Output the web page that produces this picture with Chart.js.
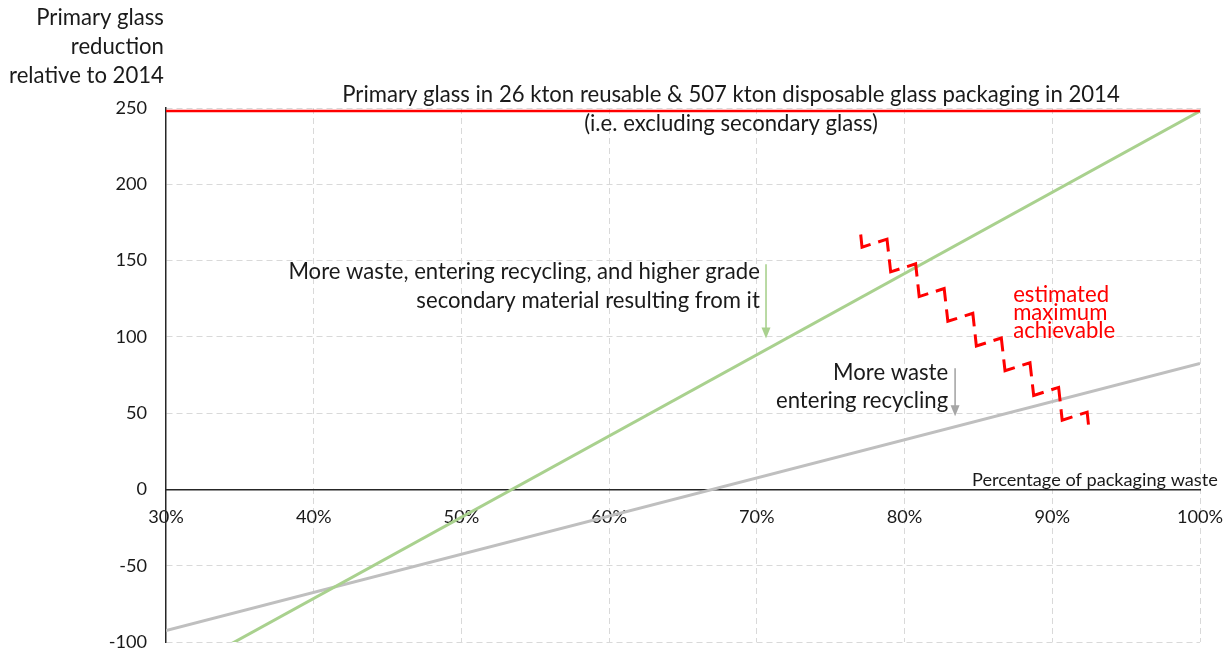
<!DOCTYPE html>
<html><head><meta charset="utf-8">
<script src="https://cdn.jsdelivr.net/npm/chart.js@4.4.1/dist/chart.umd.min.js"></script>
<style>html,body{margin:0;padding:0;background:#fff;overflow:hidden}canvas{display:block}</style>
</head><body>
<canvas id="c" width="1224" height="651"></canvas>
<script>
// ---------------- data ----------------
const xTickValues = [30, 40, 50, 60, 70, 80, 90, 100];          // % of packaging waste
const yTickValues = [-100, -50, 0, 50, 100, 150, 200, 250];     // kton
const baselineX = [30, 100];
const baselineY = [248, 248];                                    // primary glass 2014
const highGradeX = [30, 100];
const highGradeY = [-124.7, 248];                                // more waste + higher grade secondary material
const moreWasteX = [30, 100];
const moreWasteY = [-92.5, 82.5];                                // more waste entering recycling
const maxAchX = [77.03, 77.12, 78.81, 79.06, 80.75, 80.99, 82.68, 82.93, 84.62, 84.86, 86.55, 86.80, 88.49, 88.74, 90.43, 90.67, 92.36, 92.45];
const maxAchY = [167.1, 158.8, 164.05, 142.6, 147.85, 126.4, 131.65, 110.2, 115.45, 94.0, 99.25, 77.8, 83.05, 61.6, 66.85, 45.4, 50.65, 42.5];

const titleLines = ["Primary glass", "reduction", "relative to 2014"];
const topNote = ["Primary glass in 26 kton reusable & 507 kton disposable glass packaging in 2014", "(i.e. excluding secondary glass)"];
const greenNote = ["More waste, entering recycling, and higher grade", "secondary material resulting from it"];
const grayNote = ["More waste", "entering recycling"];
const redNote = ["estimated", "maximum", "achievable"];
const xAxisTitle = "Percentage of packaging waste";

// ---------------- styling ----------------
const FAMILY = 'Lato, "Liberation Sans", sans-serif';
const mctx = document.createElement('canvas').getContext('2d');
function fit(text, target) { mctx.font = '100px ' + FAMILY; return 100 * target / mctx.measureText(text).width; }
const mainSize = fit(topNote[0], 778);
const smallSize = mainSize * 19.7 / 24;
const TEXT = '#1a1a1a';
const GREEN = '#a9d18e', GRAY = '#bfbfbf', RED = '#ff0000';

const pts = (xs, ys) => xs.map((v, i) => ({ x: v, y: ys[i] }));

function txt(ctx, s, x, y, align, color, size) {
  ctx.font = size + 'px ' + FAMILY; ctx.fillStyle = color; ctx.textAlign = align; ctx.textBaseline = 'alphabetic';
  ctx.fillText(s, x, y);
}
function arrow(ctx, x, y1, y2, color) {
  ctx.save();
  ctx.strokeStyle = color; ctx.lineWidth = 1.6;
  ctx.beginPath(); ctx.moveTo(x, y1); ctx.lineTo(x, y2 - 9); ctx.stroke();
  ctx.fillStyle = color; ctx.beginPath();
  ctx.moveTo(x - 4.5, y2 - 11); ctx.lineTo(x + 4.5, y2 - 11); ctx.lineTo(x, y2); ctx.closePath(); ctx.fill();
  ctx.restore();
}

const annot = {
  id: 'annot',
  afterDatasetsDraw(chart) {
    const { ctx, scales: { x, y } } = chart;
    const X = v => x.getPixelForValue(v), Y = v => y.getPixelForValue(v);
    ctx.save();
    [304.5, 285.4, 266.4].forEach((v, i) => txt(ctx, titleLines[i], X(29.86), Y(v), 'right', TEXT, mainSize));
    txt(ctx, topNote[0], X(68.25), Y(254), 'center', TEXT, mainSize);
    txt(ctx, topNote[1], X(68.25), Y(235), 'center', TEXT, mainSize);
    txt(ctx, greenNote[0], X(70.2), Y(137.8), 'right', TEXT, mainSize);
    txt(ctx, greenNote[1], X(70.2), Y(118.8), 'right', TEXT, mainSize);
    arrow(ctx, X(70.62), Y(147.6), Y(99), GREEN);
    txt(ctx, grayNote[0], X(82.95), Y(71.5), 'right', TEXT, mainSize);
    txt(ctx, grayNote[1], X(82.95), Y(53.1), 'right', TEXT, mainSize);
    arrow(ctx, X(83.42), Y(79.4), Y(47.9), '#a6a6a6');
    [122.7, 110.9, 99.1].forEach((v, i) => txt(ctx, redNote[i], X(87.35), Y(v), 'left', RED, mainSize));
    txt(ctx, xAxisTitle, X(101.2), Y(2.0), 'right', TEXT, smallSize);
    ctx.restore();
  }
};

new Chart(document.getElementById('c'), {
  type: 'scatter',
  data: {
    datasets: [
      { label: 'estimated maximum achievable', data: pts(maxAchX, maxAchY), showLine: true, borderColor: RED, borderWidth: 3,
        borderDash: [21.7, 8], borderJoinStyle: 'miter', borderCapStyle: 'butt', pointRadius: 0, fill: false, tension: 0 },
      { label: 'primary glass 2014', data: pts(baselineX, baselineY), showLine: true, borderColor: RED, borderWidth: 2.5, pointRadius: 0 },
      { label: 'higher grade', data: pts(highGradeX, highGradeY), showLine: true, borderColor: GREEN, borderWidth: 3, pointRadius: 0 },
      { label: 'more waste', data: pts(moreWasteX, moreWasteY), showLine: true, borderColor: GRAY, borderWidth: 3, pointRadius: 0 }
    ]
  },
  options: {
    responsive: false, animation: false, devicePixelRatio: 1,
    layout: { padding: { left: 0, top: 108, right: 24, bottom: 9 } },
    plugins: { legend: { display: false }, tooltip: { enabled: false } },
    scales: {
      x: {
        type: 'linear', min: xTickValues[0], max: xTickValues[xTickValues.length - 1], position: { y: 0 },
        afterBuildTicks(s) { s.ticks = xTickValues.map(v => ({ value: v })); },
        afterFit(s) { s.height = 0; s.paddingLeft = 0; s.paddingRight = 0; },
        grid: { color: c => (c.tick && c.tick.value === 30) ? 'rgba(0,0,0,0)' : '#d9d9d9', lineWidth: 1, drawTicks: false },
        border: { display: true, color: '#262626', width: 1.5, dash: [6, 4] },
        ticks: { padding: 17, color: TEXT, font: { family: FAMILY, size: smallSize }, callback: v => v + '%', maxRotation: 0, autoSkip: false }
      },
      y: {
        type: 'linear', min: yTickValues[0], max: yTickValues[yTickValues.length - 1],
        afterBuildTicks(s) { s.ticks = yTickValues.map(v => ({ value: v })); },
        afterFit(s) { s.width = 166; s.paddingTop = 0; s.paddingBottom = 0; },
        grid: { color: c => (c.tick && c.tick.value === 0) ? 'rgba(0,0,0,0)' : '#d9d9d9', lineWidth: 1, drawTicks: false },
        border: { display: true, color: '#262626', width: 1.5, dash: [6, 4] },
        ticks: { padding: 19, color: TEXT, font: { family: FAMILY, size: smallSize }, autoSkip: false }
      }
    }
  },
  plugins: [annot]
});
</script>
</body></html>
